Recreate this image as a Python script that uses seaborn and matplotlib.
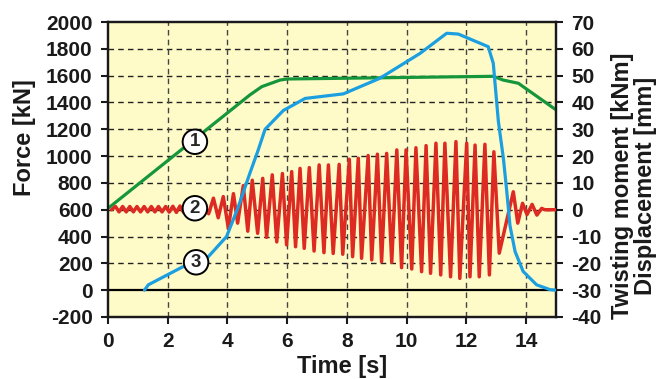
import matplotlib
matplotlib.use("Agg")
import matplotlib.pyplot as plt
import seaborn as sns
import numpy as np

# ---- data ----
force_t = [0.0, 4.75, 5.15, 5.76, 6.0, 12.9, 13.23, 13.74, 15.0]
force_v = [610, 1456, 1518, 1567, 1575, 1595, 1567, 1543, 1345]

disp_t = [1.22, 1.35, 2.5, 3.0, 3.36, 3.97, 4.36, 4.75, 5.03, 5.26, 5.87, 6.6, 7.88,
          9.1, 10.45, 11.34, 11.73, 12.73, 12.9, 13.07, 13.24, 13.35, 13.46, 13.63,
          13.9, 14.35, 14.8, 15.0]
disp_v = [-30, -28, -21.3, -19.5, -17.5, -10, 1, 13.6, 22.3, 30, 37, 41.5, 43.2,
          49, 58.3, 65.8, 65.5, 60.8, 54.6, 33, 19, 7, -6, -15.6,
          -23, -28, -29.8, -30]

moment_t = [0.12, 0.25, 0.37, 0.49, 0.61, 0.73, 0.85, 0.97, 1.09, 1.21, 1.33, 1.45,
            1.57, 1.69, 1.81, 1.93, 2.05, 2.17, 2.29, 2.41, 2.53, 2.65, 2.79, 2.93,
            3.07, 3.21, 3.37, 3.53, 3.69, 3.86, 4.03, 4.20, 4.34, 4.53, 4.68, 4.83,
            5.01, 5.18, 5.31, 5.50, 5.65, 5.84, 5.98, 6.15, 6.28, 6.43, 6.57, 6.74,
            6.90, 7.07, 7.23, 7.38, 7.54, 7.74, 7.86, 8.08, 8.19, 8.38, 8.49, 8.71,
            8.83, 9.02, 9.16, 9.33, 9.50, 9.67, 9.83, 9.98, 10.17, 10.31, 10.50, 10.65,
            10.80, 10.98, 11.14, 11.28, 11.47, 11.65, 11.78, 12.01, 12.12, 12.29, 12.43,
            12.62, 12.77, 12.92, 13.10, 13.57, 13.72, 13.88, 14.03, 14.20, 14.36, 14.52,
            14.62, 15.0]
moment_v = [0, 1.2, -0.8, 1.2, -0.8, 1.2, -0.8, 1.2, -0.8, 1.2, -0.8, 1.2,
            -0.8, 1.2, -0.8, 1.2, -0.9, 1.3, -1.0, 1.4, -1.0, 1.5, -1.2, 1.8,
            -1.3, 2.2, -1.5, 4.3, -3.0, 4.9, -6.9, 6.0, -5.0, 9.0, -8.0, 11.0,
            -8.8, 11.7, -10.3, 13.0, -12.0, 13.5, -13.1, 14.2, -13.8, 15.4, -14.4, 15.7,
            -15.4, 16.7, -16.0, 16.7, -16.3, 16.9, -16.6, 18.8, -17.5, 19.2, -18.1, 20.2,
            -18.7, 20.7, -19.4, 21.0, -19.6, 22.3, -21.6, 22.3, -22.1, 23.1, -23.1, 23.9,
            -23.7, 24.8, -24.3, 24.8, -25.0, 25.4, -25.6, 24.8, -25.0, 24.1, -25.0,
            24.4, -24.3, 21.6, -16.2, 6.7, -5.0, 2.4, -1.8, 2.0, -2.0, 0.5,
            0, 0]

x_ticks = [0, 2, 4, 6, 8, 10, 12, 14]
left_ticks = list(range(-200, 2001, 200))
right_ticks = list(range(-40, 71, 10))
labels = ["1", "2", "3"]
label_t = [2.91, 2.91, 2.95]
label_left = [1107, 611, 208]

GREEN = "#16963c"
RED = "#dd2a22"
BLUE = "#1b9fe0"
BG = "#fffbc8"

sns.set_style("ticks")
plt.rcParams["font.family"] = ["Liberation Sans", "DejaVu Sans"]
plt.rcParams["font.weight"] = "bold"
plt.rcParams["axes.unicode_minus"] = False

W, H = 667, 379
fig = plt.figure(figsize=(6.67, 3.79), dpi=100)
ax = fig.add_axes([108 / W, 1 - 317 / H, 448 / W, 295 / H])
ax.set_facecolor(BG)
ax2 = ax.twinx()
ax2.set_facecolor("none")

ax.set_xlim(0, 15)
ax.set_ylim(-200, 2000)
ax2.set_ylim(-40, 70)
ax.set_xticks(x_ticks)
ax.set_yticks(left_ticks)
ax2.set_yticks(right_ticks)

# grid
for yv in left_ticks[1:-1]:
    if yv == 0:
        ax.axhline(0, color="black", lw=1.6, zorder=1)
    else:
        ax.axhline(yv, color="#222222", lw=1.0, ls=(0, (4, 3)), zorder=1)
for xv in x_ticks[1:]:
    ax.axvline(xv, color="#444444", lw=1.0, ls=(0, (4, 3)), zorder=1)

sns.lineplot(x=force_t, y=force_v, ax=ax, color=GREEN, lw=2.3, estimator=None, zorder=3)
sns.lineplot(x=moment_t, y=moment_v, ax=ax2, color=RED, lw=2.5, estimator=None, zorder=3)
sns.lineplot(x=disp_t, y=disp_v, ax=ax2, color=BLUE, lw=2.3, estimator=None, zorder=4)

for lab, t, v in zip(labels, label_t, label_left):
    ax2.text(t, (v - 600) / 20, lab, ha="center", va="center", fontsize=13.5,
             fontweight="bold", zorder=10,
             bbox=dict(boxstyle="circle,pad=0.2", fc="white", ec="black", lw=1.4))

for a in (ax, ax2):
    for s in a.spines.values():
        s.set_visible(True)
        s.set_color("#1a1a1a")
        s.set_linewidth(1.6)
    a.tick_params(direction="out", length=5, width=1.5, labelsize=15, pad=6, colors="#1a1a1a")
    for lbl in a.get_xticklabels() + a.get_yticklabels():
        lbl.set_fontweight("bold")
ax.set_xlabel("")
ax.set_ylabel("")
ax2.set_ylabel("")

fig.text(342 / W, 1 - 367 / H, "Time [s]", fontsize=17, fontweight="bold",
         ha="center", va="center", color="#1a1a1a")
fig.text(25 / W, 1 - 138 / H, "Force [kN]", fontsize=17, fontweight="bold",
         ha="center", va="center", rotation=90, color="#1a1a1a")
fig.text(634 / W, 1 - 186 / H, "Twisting moment [kNm]\nDisplacement [mm]", fontsize=17,
         fontweight="bold", ha="center", va="center", rotation=90, linespacing=0.95,
         multialignment="center", color="#1a1a1a")

fig.savefig("out.png", dpi=100)
